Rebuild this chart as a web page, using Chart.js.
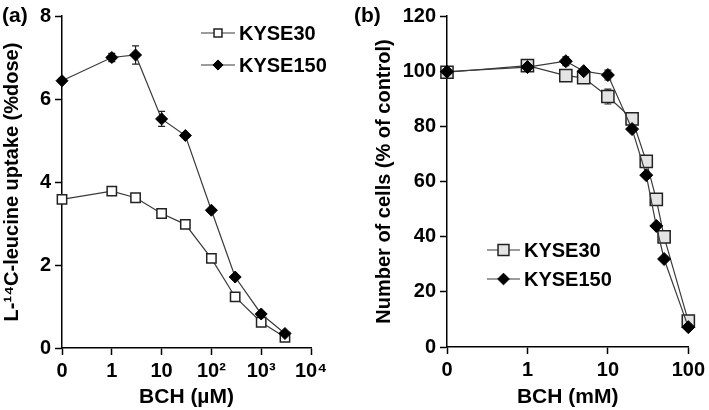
<!DOCTYPE html>
<html>
<head>
<meta charset="utf-8">
<script src="https://cdn.jsdelivr.net/npm/chart.js@4.4.0/dist/chart.umd.min.js"></script>
<style>
    body { margin: 0; background: #fff; width: 709px; height: 410px; overflow: hidden; position: relative; font-family: 'Liberation Sans', Arial, sans-serif; }
    .panel { position: absolute; top: 0; height: 410px; }
    #pa { left: 0; width: 350px; }
    #pb { left: 350px; width: 359px; }
    .tag { position: absolute; top: 3px; font-weight: bold; font-size: 21px; line-height: 24px; }
</style>
</head>
<body>
<div class="panel" id="pa"><canvas id="chart-a" width="350" height="410"></canvas></div>
<div class="panel" id="pb"><canvas id="chart-b" width="359" height="410"></canvas></div>
<div class="tag" style="left:2px">(a)</div>
<div class="tag" style="left:354px">(b)</div>
<script>
// (a) L-14C-leucine uptake vs BCH (uM)
const bchUM = [0, 1, 3, 10, 30, 100, 300, 1000, 3000];
const uptake30 = [3.58, 3.78, 3.62, 3.24, 2.98, 2.16, 1.23, 0.62, 0.26];
const uptake150 = [6.44, 7.0, 7.06, 5.52, 5.12, 3.32, 1.71, 0.82, 0.35];
const uptake150Err = [0, 0.1, 0.22, 0.18, 0, 0, 0, 0, 0];
const uptakeXLabels = ['0', '1', '10', '10²', '10³', '10⁴'];

// (b) number of cells vs BCH (mM)
const bchMM = [0, 1, 3, 5, 10, 20, 30, 40, 50, 100];
const cells30 = [99.6, 102, 98.4, 97.6, 90.8, 82.7, 67.3, 53.5, 39.9, 9.4];
const cells30Err = [0, 0, 0, 0, 2.7, 0, 0, 0, 0, 0];
const cells150 = [99.8, 101.5, 103.6, 100, 98.6, 79, 62.3, 43.9, 31.9, 7.2];
const cells150Err = [0, 0, 1.6, 0, 1.8, 0, 0, 0, 0, 0];
const cellsXLabels = ['0', '1', '10', '100'];

const FONT = "'Liberation Sans', Arial, sans-serif";

// 0 sits one decade left of 1, then log decades
const logPos = x => x === 0 ? 0 : Math.log10(x) + 1;
const toPoints = (xs, ys) => xs.map((x, i) => ({ x: logPos(x), y: ys[i] }));

// draws vertical error bars under the markers
const errorBars = {
    id: 'errorBars',
    beforeDatasetsDraw(chart) {
        const ctx = chart.ctx;
        const yScale = chart.scales.y;
        chart.data.datasets.forEach((ds, i) => {
            if (!ds.errors) return;
            const meta = chart.getDatasetMeta(i);
            ctx.save();
            ctx.strokeStyle = '#222';
            ctx.lineWidth = 1.2;
            meta.data.forEach((pt, j) => {
                const e = ds.errors[j];
                if (!e) return;
                const v = ds.data[j].y;
                const yTop = yScale.getPixelForValue(v + e);
                const yBot = yScale.getPixelForValue(v - e);
                ctx.beginPath();
                ctx.moveTo(pt.x, yTop); ctx.lineTo(pt.x, yBot);
                ctx.moveTo(pt.x - 3.5, yTop); ctx.lineTo(pt.x + 3.5, yTop);
                ctx.moveTo(pt.x - 3.5, yBot); ctx.lineTo(pt.x + 3.5, yBot);
                ctx.stroke();
            });
            ctx.restore();
        });
    }
};

// legend in the "line - marker - line  label" style
const lineLegend = {
    id: 'lineLegend',
    afterDraw(chart, args, opts) {
        const ctx = chart.ctx;
        chart.data.datasets.forEach((ds, i) => {
            const y = opts.y + i * opts.gap;
            ctx.save();
            ctx.strokeStyle = ds.borderColor;
            ctx.lineWidth = ds.borderWidth;
            ctx.beginPath();
            ctx.moveTo(opts.x, y);
            ctx.lineTo(opts.x + opts.lineLen, y);
            ctx.stroke();
            ctx.fillStyle = ds.pointBackgroundColor;
            ctx.strokeStyle = ds.pointBorderColor;
            ctx.lineWidth = ds.pointBorderWidth;
            Chart.helpers.drawPoint(ctx, {
                pointStyle: ds.pointStyle, radius: ds.pointRadius * opts.markerScale,
                borderWidth: ds.pointBorderWidth, rotation: 0
            }, opts.x + opts.lineLen / 2, y);
            ctx.fillStyle = '#000';
            ctx.font = opts.font;
            ctx.textBaseline = 'middle';
            ctx.fillText(ds.label, opts.x + opts.lineLen + 4, y + 1);
            ctx.restore();
        });
    }
};

const axisCommon = (labels) => ({
    grid: { drawOnChartArea: false, color: '#000', tickLength: 7, tickWidth: 1.5 },
    border: { color: '#000', width: 1.5 },
    ticks: {
        color: '#000', autoSkip: false, maxRotation: 0, padding: 4,
        font: { family: FONT, size: 20, weight: 'bold' },
        callback: labels ? (v => labels[v]) : undefined
    }
});

const makeChart = (id, cfg) => new Chart(document.getElementById(id), {
    type: 'line',
    data: { datasets: cfg.datasets },
    options: {
        responsive: false,
        animation: false,
        layout: { padding: cfg.padding },
        scales: {
            x: Object.assign(axisCommon(cfg.xLabels), {
                type: 'linear', min: 0, max: cfg.xLabels.length - 1,
                afterFit: s => { s.height = cfg.xHeight; },
                title: { display: true, text: cfg.xTitle, color: '#000', padding: { top: cfg.xTitlePad, bottom: 0 },
                         font: { family: FONT, size: 21, weight: 'bold' } }
            }),
            y: Object.assign(axisCommon(null), {
                min: cfg.yMin, max: cfg.yMax,
                afterFit: s => { s.width = cfg.yWidth; },
                title: { display: true, text: cfg.yTitle, color: '#000', padding: { top: cfg.yTitlePad, bottom: 0 },
                         font: { family: FONT, size: 20, weight: 'bold' } }
            })
        },
        plugins: {
            legend: { display: false },
            tooltip: { enabled: false },
            lineLegend: cfg.legend
        }
    },
    plugins: [errorBars, lineLegend]
});

const chartA = makeChart('chart-a', {
    datasets: [
        { label: 'KYSE30', data: toPoints(bchUM, uptake30), order: 1, clip: false,
          borderColor: '#3a3a3a', borderWidth: 1.2, pointStyle: 'rect', pointRadius: 6.6,
          pointBackgroundColor: '#fff', pointBorderColor: '#222', pointBorderWidth: 1.5 },
        { label: 'KYSE150', data: toPoints(bchUM, uptake150), order: 0, clip: false, errors: uptake150Err,
          borderColor: '#3a3a3a', borderWidth: 1.2, pointStyle: 'rectRot', pointRadius: 6,
          pointBackgroundColor: '#000', pointBorderColor: '#000', pointBorderWidth: 1 }
    ],
    padding: { top: 15, right: 39, left: 0, bottom: 0 },
    xLabels: uptakeXLabels, xHeight: 62, xTitle: 'BCH (µM)', xTitlePad: 4,
    yMin: 0, yMax: 8, yWidth: 62, yTitle: 'L-¹⁴C-leucine uptake (%dose)', yTitlePad: 0,
    legend: { x: 201, y: 33, gap: 32, lineLen: 34, markerScale: 0.85, font: 'bold 20px ' + FONT }
});
chartA.options.scales.x.ticks.stepSize = 1;
chartA.options.scales.y.ticks.stepSize = 2;
chartA.update();

const chartB = makeChart('chart-b', {
    datasets: [
        { label: 'KYSE30', data: toPoints(bchMM, cells30), order: 1, clip: false, errors: cells30Err,
          borderColor: '#3a3a3a', borderWidth: 1.2, pointStyle: 'rect', pointRadius: 8.6,
          pointBackgroundColor: '#e4e4e4', pointBorderColor: '#222', pointBorderWidth: 1.5 },
        { label: 'KYSE150', data: toPoints(bchMM, cells150), order: 0, clip: false, errors: cells150Err,
          borderColor: '#3a3a3a', borderWidth: 1.2, pointStyle: 'rectRot', pointRadius: 6.5,
          pointBackgroundColor: '#000', pointBorderColor: '#000', pointBorderWidth: 1 }
    ],
    padding: { top: 14, right: 18, left: 0, bottom: 0 },
    xLabels: cellsXLabels, xHeight: 63, xTitle: 'BCH (mM)', xTitlePad: 4,
    yMin: 0, yMax: 120, yWidth: 97, yTitle: 'Number of cells (% of control)', yTitlePad: 22,
    legend: { x: 137, y: 250, gap: 29, lineLen: 33, markerScale: 0.9, font: 'bold 20px ' + FONT }
});
chartB.options.scales.x.ticks.stepSize = 1;
chartB.options.scales.y.ticks.stepSize = 20;
chartB.update();
</script>
</body>
</html>
